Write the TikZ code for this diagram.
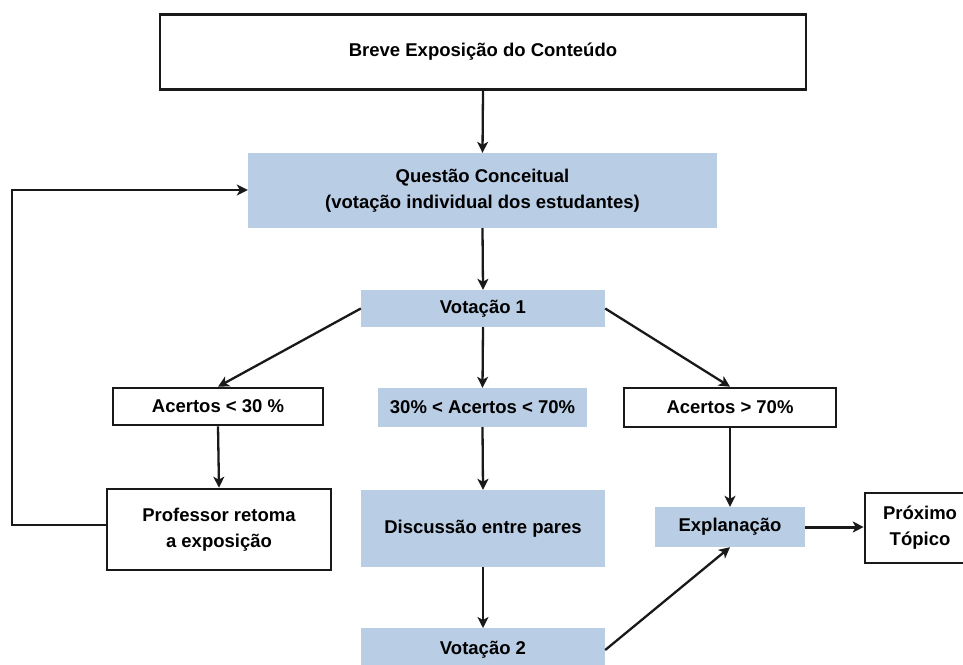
\documentclass[tikz,border=0pt]{standalone}
\usepackage{fontspec}
\setmainfont{Liberation Sans}
\usetikzlibrary{arrows.meta}
\definecolor{boxblue}{HTML}{B9CDE5}
\tikzset{
  base/.style={rectangle, inner sep=0pt, align=center, font=\bfseries\fontsize{18.5}{26}\selectfont},
  wbox/.style={base, draw=black!90, line width=2.6pt, fill=white},
  bbox/.style={base, fill=boxblue},
  conn/.style={draw=black!90, line width=2.3pt, -{Stealth[length=11pt,width=11pt,inset=3pt]}},
}
\begin{document}
\begin{tikzpicture}[x=1pt,y=-1pt]
\useasboundingbox (0,0) rectangle (963,664);
\node[wbox, minimum width=646pt, minimum height=75pt] (breve) at (483,52) {Breve Exposição do Conteúdo};
\node[bbox, minimum width=469pt, minimum height=75pt] (quest) at (482.5,190.5) {Questão Conceitual\\(votação individual dos estudantes)};
\node[bbox, minimum width=244pt, minimum height=37pt] (vot1) at (483,308.5) {Votação 1};
\node[wbox, minimum width=210pt, minimum height=37pt] (a30) at (218,406.5) {Acertos < 30 \%};
\node[bbox, minimum width=209pt, minimum height=39pt] (a3070) at (482.5,407.5) {30\% < Acertos < 70\%};
\node[wbox, minimum width=212pt, minimum height=39pt] (a70) at (730,407.5) {Acertos > 70\%};
\node[wbox, minimum width=224pt, minimum height=81pt] (prof) at (219,529.5) {Professor retoma\\a exposição};
\node[bbox, minimum width=244pt, minimum height=77pt] (disc) at (483,528.5) {Discussão entre pares};
\node[bbox, minimum width=150pt, minimum height=40pt] (expl) at (730,527) {Explanação};
\node[wbox, minimum width=110pt, minimum height=70pt] (prox) at (920,528) {Próximo\\Tópico};
\node[bbox, minimum width=244pt, minimum height=44pt, anchor=north] (vot2) at (483,628) {\raisebox{-2pt}{Votação 2}};
\coordinate (lb) at (12,525);
\coordinate (lt) at (12,190);
\draw[conn] (breve.south) -- (quest.north);
\draw[conn] (quest.south) -- (vot1.north);
\draw[conn] (vot1.west) -- (a30.north);
\draw[conn] (vot1.south) -- (a3070.north);
\draw[conn] (vot1.east) -- (a70.north);
\draw[conn] (a30.south) -- (prof.north);
\draw[conn] (a3070.south) -- (disc.north);
\draw[conn] (a70.south) -- (expl.north);
\draw[conn] (disc.south) -- (vot2.north);
\draw[conn] (vot2.east |- 0,650) -- (expl.south);
\draw[conn, line width=3pt] (expl.east) -- (prox.west |- expl.east);
\draw[conn, line width=2.8pt] (prof.west |- lb) -- (lb) -- (lt) -- (quest.west |- lt);
\end{tikzpicture}
\end{document}
